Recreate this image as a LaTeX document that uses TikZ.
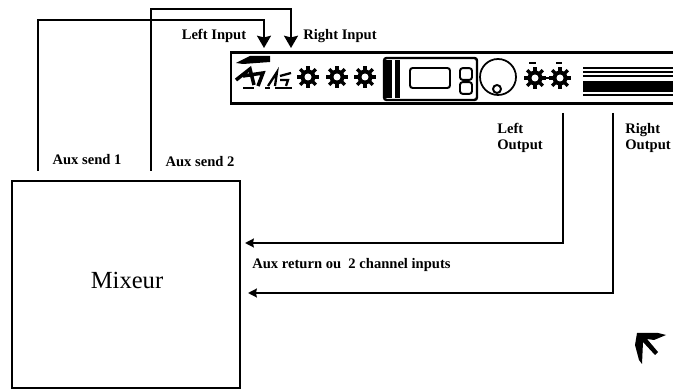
\documentclass[tikz,border=0pt]{standalone}
\usepackage{fontspec}
\setmainfont{Liberation Serif}
\usetikzlibrary{arrows.meta}
\tikzset{
  wbox/.style={draw=black, fill=white, line width=0.9pt, inner sep=0pt},
  lbl/.style={font=\fontsize{8.3}{9.1}\selectfont\bfseries, inner sep=0pt, align=left},
  iarr/.style={-{Stealth[length=7pt, width=8pt, inset=1pt]}, line width=1pt, color=black},
  oarr/.style={-{Stealth[length=5pt, width=5pt, inset=0.5pt]}, line width=1.2pt, color=black},
  panel/.style={draw=black, line width=1.4pt, rounded corners=1.5pt},
  stripe/.style={draw=black, line width=1.1pt},
  knob/.pic={
    \fill[black] (0,0) circle (7.5);
    \fill[white] (0,0) circle (3.5);
    \foreach \a in {0,45,...,315}
      \draw[line width=2pt] (\a:6) -- (\a:11);
  },
}
\begin{document}
\begin{tikzpicture}[x=0.02cm, y=-0.02cm]
\useasboundingbox (0,0) rectangle (673,391);

%% mixer and effects unit
\node[wbox, minimum width=4.56cm, minimum height=4.14cm] (mixeur) at (126,284.5) {};
\node[font=\fontsize{14}{16}\selectfont, inner sep=0pt] (mixtxt) at (127,280) {Mixeur};
\node[wbox, line width=1.4pt, minimum width=9cm, minimum height=1.02cm] (rack) at (456,78) {};

%% front panel
\fill (236,63) -- (250,56) -- (270,56) -- (270,62) -- (243,64) -- cycle;
\draw[line width=2pt] (236,80) -- (250,69) -- (254,85) (243,76) -- (263,73) -- (258,86);
\draw[line width=1.3pt] (268,86) -- (277,72) -- (275,86) (280,76) -- (291,73) (280,80) -- (288,80) -- (286,86);
\draw[line width=1pt] (243,88) -- (254,88) (265,88) -- (270,88) (275,88) -- (292,88);
\pic (knob1) at (308,77) {knob};
\pic (knob2) at (337,77) {knob};
\pic (knob3) at (365,77) {knob};
\pic (knob4) at (535,78) {knob};
\pic (knob5) at (560,78) {knob};
\draw[line width=0.8pt] (542,78) -- (553,78) (529,63) -- (536,63) (556,63) -- (562,63);

\node[panel, minimum width=1.86cm, minimum height=0.84cm] (display) at (430.5,79) {};
\fill (385,60) rectangle (392,98);
\fill (395,60) rectangle (400,98);
\node[panel, line width=1.1pt, minimum width=0.8cm, minimum height=0.4cm] (screen) at (430,78) {};
\node[panel, line width=1.1pt, minimum width=0.24cm, minimum height=0.18cm] (btn1) at (466,74) {};
\node[panel, line width=1.1pt, minimum width=0.24cm, minimum height=0.18cm] (btn2) at (466,88) {};
\node[circle, draw, line width=1pt, minimum size=0.72cm, inner sep=0pt] (dial) at (498,77) {};
\node[circle, draw, line width=1.1pt, minimum size=0.16cm, inner sep=0pt] (dialdot) at (497,89) {};
\foreach \y in {68,72,76,95}
  \draw[stripe] (583,\y) -- (673,\y);
\fill (583,81) rectangle (673,92);

%% free ends of the wires
\coordinate (send1) at (38,171);
\coordinate (send2) at (151,171);
\coordinate (inL) at (264,48);
\coordinate (inR) at (291,48);
\coordinate (outL) at (563,113);
\coordinate (outR) at (613,113);
\coordinate (retL) at (245,243);
\coordinate (retR) at (248,293);

%% wires
\draw[iarr] (send1) |- (264,20) -- (inL);
\draw[iarr] (send2) |- (291,9) -- (inR);
\draw[oarr] (outL) |- (retL);
\draw[oarr] (outR) |- (retR);

%% labels
\node[lbl] (linput) at (214,36) {Left Input};
\node[lbl] (rinput) at (340,36) {Right Input};
\node[lbl] (aux1) at (87,160) {Aux send 1};
\node[lbl] (aux2) at (200,162) {Aux send 2};
\node[lbl, anchor=west] (loutput) at (497,138) {Left\\Output};
\node[lbl, anchor=west] (routput) at (625,138) {Right\\Output};
\node[lbl, anchor=west] (auxret) at (252,265) {Aux return ou\enspace 2 channel inputs};

%% mark, bottom right
\fill (637,333) -- (658,333) -- (666,335) -- (654,340) -- (647,339) -- (658,352) -- (655,355) -- (643,342) -- (642,364) -- (639,360) -- (635,345) -- cycle;
\end{tikzpicture}
\end{document}
